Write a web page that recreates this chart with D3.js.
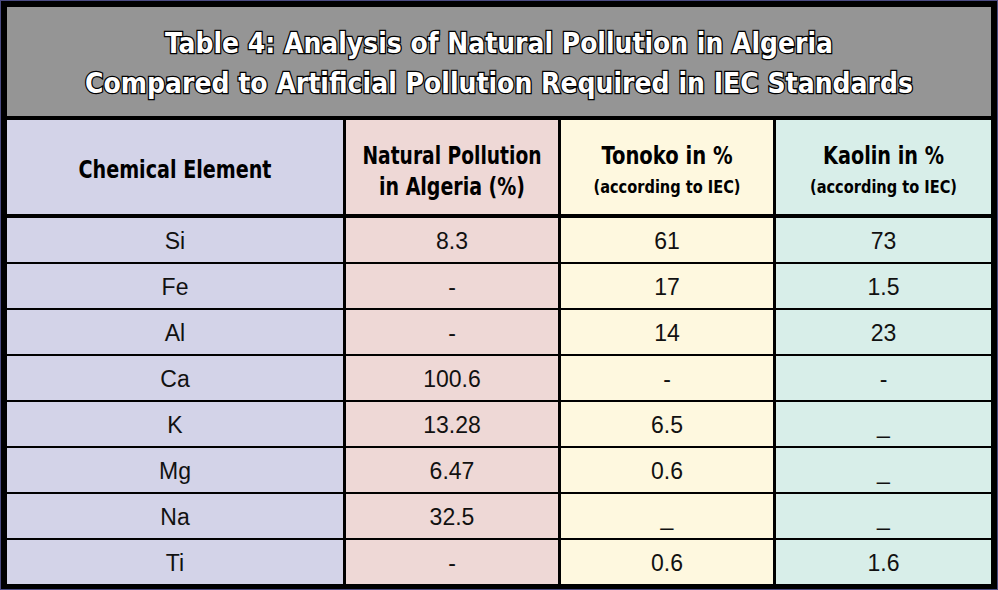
<!DOCTYPE html><html><head><meta charset="utf-8">
<script src="https://cdn.jsdelivr.net/npm/d3@7"></script>
<style>body{margin:0;background:#fff}</style></head><body>
<svg id="c" width="998" height="590"></svg>
<script>
const titleLines=["Table 4: Analysis of Natural Pollution in Algeria","Compared to Artificial Pollution Required in IEC Standards"];
const columns=[["Chemical Element"],["Natural Pollution","in Algeria (%)"],["Tonoko in %","(according to IEC)"],["Kaolin in %","(according to IEC)"]];
const headWidths=[[193],[179,146],[131,147],[121,147]];
const elements=["Si","Fe","Al","Ca","K","Mg","Na","Ti"];
const natural=["8.3","-","-","100.6","13.28","6.47","32.5","-"];
const tonoko=["61","17","14","-","6.5","0.6","_","0.6"];
const kaolin=["73","1.5","23","-","_","_","_","1.6"];
const colColors=["#d3d3e8","#eed8d6","#fef8df","#d8eee9"];

const svg=d3.select("#c");
svg.append("rect").attr("width",998).attr("height",590).attr("fill","#4b4b82");
svg.append("rect").attr("x",1).attr("y",1).attr("width",996).attr("height",588).attr("fill","#000");
const L=7,R=991,T=7,B=584;
svg.append("rect").attr("x",L).attr("y",T).attr("width",R-L).attr("height",109).attr("fill","#959595");
const tf="'DejaVu Sans Condensed','DejaVu Sans',sans-serif";
svg.selectAll("text.t").data(titleLines).join("text").attr("class","t")
 .attr("x",(L+R)/2).attr("y",(d,i)=>53+i*40).attr("text-anchor","middle")
 .attr("font-family",tf).attr("font-weight","bold").attr("font-size",29).attr("fill","#fff")
 .attr("stroke","#000").attr("stroke-width",2.6).attr("paint-order","stroke").attr("textLength",(d,i)=>i?828:668).attr("lengthAdjust","spacingAndGlyphs").text(d=>d);
const edges=[L,343,558,773,R];
const x=i=>edges[i];
const headTop=120, headBot=216;
const y=d3.scaleBand().domain(elements).range([headBot,B]);
const rows=elements.map((e,i)=>[e,natural[i],tonoko[i],kaolin[i]]);
const g=svg.append("g");
for(let c=0;c<4;c++){
  const x0=x(c)+(c?3:0), x1=x(c+1);
  g.append("rect").attr("x",x0).attr("y",headTop).attr("width",x1-x0).attr("height",headBot-headTop-2).attr("fill",colColors[c]);
  const lines=columns[c];
  lines.forEach((t,k)=>{
    const sub=k==1&&c>=2;
    const cy=lines.length==1?178:(k==0?164:(sub?193:195));
    g.append("text").attr("x",(x0+x1)/2).attr("y",cy).attr("text-anchor","middle").attr("font-family",tf)
     .attr("font-weight","bold").attr("font-size",sub?17:25).attr("fill","#000")
     .attr("textLength",headWidths[c][k]).attr("lengthAdjust","spacingAndGlyphs").text(t);
  });
  rows.forEach(r=>{
    g.append("rect").attr("x",x0).attr("y",y(r[0])+2).attr("width",x1-x0).attr("height",y.bandwidth()-2).attr("fill",colColors[c]);
    g.append("text").attr("x",(x0+x1)/2).attr("y",y(r[0])+y.bandwidth()/2+10).attr("text-anchor","middle")
     .attr("font-family","'Liberation Sans',Arial,sans-serif").attr("font-size",23).attr("fill","#111").text(r[c]);
  });
}
</script></body></html>
